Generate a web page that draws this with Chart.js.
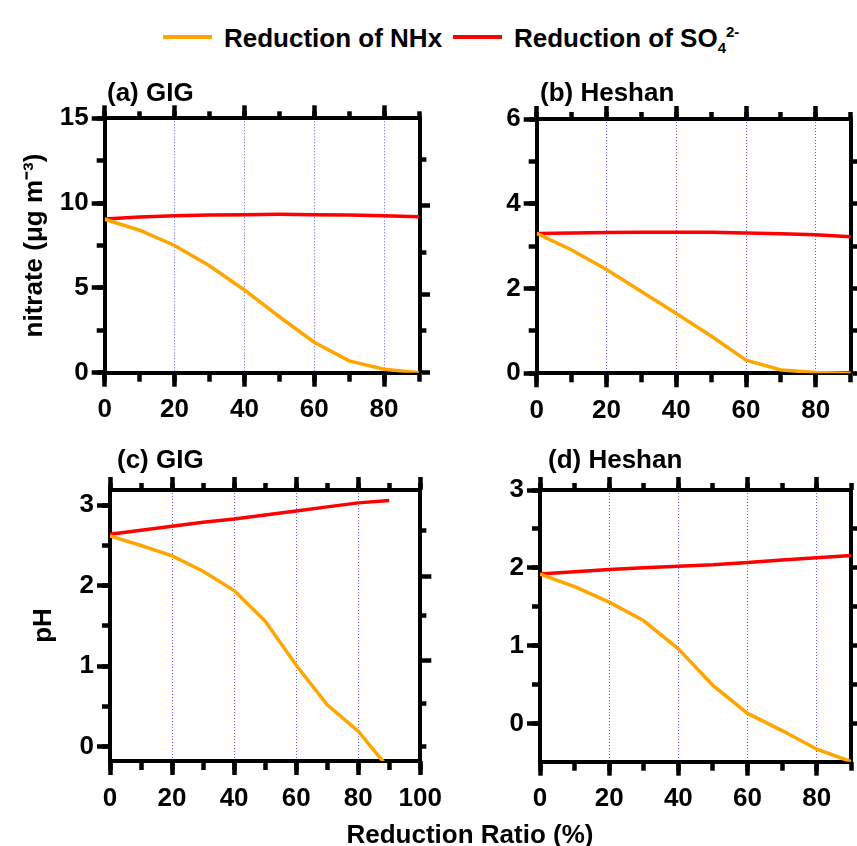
<!DOCTYPE html>
<html>
<head>
<meta charset="utf-8">
<script src="https://cdn.jsdelivr.net/npm/chart.js@4.4.1/dist/chart.umd.min.js"></script>
<style>
body { margin:0; background:#fff; width:857px; height:846px; position:relative; overflow:hidden;
       font-family:'Liberation Sans', Arial, sans-serif; font-weight:bold; color:#000; }
canvas { position:absolute; }
.t { position:absolute; font-size:26px; line-height:26px; white-space:nowrap; }
.sw { position:absolute; height:4px; width:49px; }
sub, sup { font-size:15px; line-height:0; }
</style>
</head>
<body>
<canvas id="cA" width="430" height="370" style="left:0;top:60px"></canvas>
<canvas id="cB" width="427" height="370" style="left:430px;top:60px"></canvas>
<canvas id="cC" width="450" height="406" style="left:0;top:440px"></canvas>
<canvas id="cD" width="427" height="406" style="left:430px;top:440px"></canvas>

<div class="sw" style="left:163px;top:35px;background:#FFA500"></div>
<div class="t" style="left:224px;top:25px">Reduction of NHx</div>
<div class="sw" style="left:453px;top:35px;background:#FF0000"></div>
<div class="t" style="left:514px;top:25px">Reduction of SO<sub>4</sub><sup>2-</sup></div>

<div class="t" style="left:107px;top:79px">(a) GIG</div>
<div class="t" style="left:540px;top:79px">(b) Heshan</div>
<div class="t" style="left:117px;top:446px">(c) GIG</div>
<div class="t" style="left:548px;top:446px">(d) Heshan</div>
<div class="t" style="left:470px;top:821px;transform:translateX(-50%)">Reduction Ratio (%)</div>

<script>
// reduction ratio (%) on the x axis
const reductionRatio = [0, 10, 20, 30, 40, 50, 60, 70, 80, 90];

// nitrate (ug m-3)
const nitrateGIG_NHx    = [9.05, 8.4, 7.5, 6.3, 4.88, 3.3, 1.8, 0.7, 0.2, 0.0];
const nitrateGIG_SO4    = [9.06, 9.18, 9.25, 9.3, 9.32, 9.34, 9.32, 9.3, 9.26, 9.2];
const nitrateHeshan_NHx = [3.3, 2.91, 2.45, 1.93, 1.41, 0.88, 0.31, 0.08, 0.02, 0.0];
const nitrateHeshan_SO4 = [3.3, 3.31, 3.32, 3.33, 3.33, 3.33, 3.31, 3.29, 3.27, 3.22];

// pH
const pHGIG_NHx    = [2.62, 2.5, 2.37, 2.18, 1.94, 1.56, 1.01, 0.52, 0.19, -0.28];
const pHGIG_SO4    = [2.64, 2.69, 2.74, 2.79, 2.83, 2.88, 2.93, 2.98, 3.03, 3.06];
const pHHeshan_NHx = [1.92, 1.76, 1.56, 1.32, 0.96, 0.49, 0.13, -0.09, -0.33, -0.49];
const pHHeshan_SO4 = [1.92, 1.95, 1.98, 2.0, 2.02, 2.04, 2.07, 2.1, 2.13, 2.16];

// unlabeled tick marks on the right-hand frame
const rightLongA  = [0, 4.64, 9.88];
const rightShortA = [2.46, 7.09, 12.59];
const rightLongB  = [0, 1, 2, 3, 4, 5];
const rightLongC  = [1.07, 2.12];
const rightShortC = [0, 0.53, 1.63, 2.69];
const rightLongD  = [0, 0.5, 1, 1.5, 2, 2.5];

Chart.defaults.font.family = "'Liberation Sans', Arial, sans-serif";
Chart.defaults.color = '#000';

const ORANGE = '#FFA500', RED = '#FF0000', GRID = '#5a5aff';

// one side of the frame; size = box width/height reserved for it
function side(position, weight, min, max, len, size, o = {}) {
  const vertical = position === 'left' || position === 'right';
  const sc = {
    type: 'linear', position, weight, min, max,
    ticks: { display: !!o.labels, autoSkip: false, includeBounds: false, stepSize: o.step,
             padding: o.pad || 3, maxRotation: 0, color: '#000',
             font: { size: 26, weight: 'bold' } },
    grid: { drawOnChartArea: !!o.grid, color: GRID, lineWidth: 1, tickColor: '#000',
            tickWidth: 4.5, tickLength: len, tickBorderDash: [] },
    border: { display: !!o.border, color: '#000', width: 4, dash: [1, 2] },
    afterFit: s => { if (vertical) s.width = size; else s.height = size; }
  };
  if (o.values) sc.afterBuildTicks = s => { s.ticks = o.values.map(v => ({ value: v })); };
  if (o.title) sc.title = { display: true, text: o.title, color: '#000',
                            font: { size: 26, weight: 'bold' }, padding: { top: o.titlePad, bottom: 0 } };
  return sc;
}

function panel(p) {
  const scales = {
    x:   side('bottom', 1, 0, p.xMax, 14, p.b, { labels: true, step: 20, grid: true, border: true, pad: 8 }),
    xm:  side('bottom', 0, 0, p.xMax, 9, 0, { step: 10 }),
    xt:  side('top', 1, 0, p.xMax, 13, p.t, { step: 20, border: true }),
    xtm: side('top', 0, 0, p.xMax, 7, 0, { step: 10 }),
    y:   side('left', 1, p.yMin, p.yMax, 13, p.l, { labels: true, step: p.yStep, border: true,
                                                    title: p.title, titlePad: p.titlePad }),
    ym:  side('left', 0, p.yMin, p.yMax, 8, 0, { step: p.yStep / 2 }),
    yr:  side('right', 1, p.yMin, p.yMax, 11, p.r, { values: p.rightLong, border: true }),
  };
  if (p.rightShort) scales.yrs = side('right', 0, p.yMin, p.yMax, 6, 0, { values: p.rightShort });

  const line = (vals, color) => ({
    data: reductionRatio.map((x, i) => ({ x, y: vals[i] })),
    borderColor: color, borderWidth: 3.5, pointRadius: 0, tension: 0,
    xAxisID: 'x', yAxisID: 'y'
  });

  return new Chart(document.getElementById(p.canvas), {
    type: 'line',
    data: { datasets: [line(p.nhx, ORANGE), line(p.so4, RED)] },
    options: {
      responsive: false, animation: false, events: [],
      layout: { autoPadding: false, padding: 0 },
      plugins: { legend: { display: false }, tooltip: { enabled: false } },
      scales
    }
  });
}

panel({ canvas: 'cA', nhx: nitrateGIG_NHx, so4: nitrateGIG_SO4, yMin: 0, yMax: 15, yStep: 5, xMax: 90.4,
        l: 104.7, t: 58.3, r: 9.6, b: 57.3, title: 'nitrate (μg m⁻³)', titlePad: 19,
        rightLong: rightLongA, rightShort: rightShortA });
panel({ canvas: 'cB', nhx: nitrateHeshan_NHx, so4: nitrateHeshan_SO4, yMin: 0, yMax: 6, yStep: 2, xMax: 90.2,
        l: 106.7, t: 59, r: 5.6, b: 56.7, rightLong: rightLongB });
panel({ canvas: 'cC', nhx: pHGIG_NHx, so4: pHGIG_SO4, yMin: -0.18, yMax: 3.19, yStep: 1, xMax: 100,
        l: 110, t: 50, r: 27, b: 85, title: 'pH', titlePad: 28,
        rightLong: rightLongC, rightShort: rightShortC });
panel({ canvas: 'cD', nhx: pHHeshan_NHx, so4: pHHeshan_SO4, yMin: -0.49, yMax: 3, yStep: 1, xMax: 90,
        l: 110, t: 50, r: 5.7, b: 84.3, rightLong: rightLongD });
</script>
</body>
</html>
